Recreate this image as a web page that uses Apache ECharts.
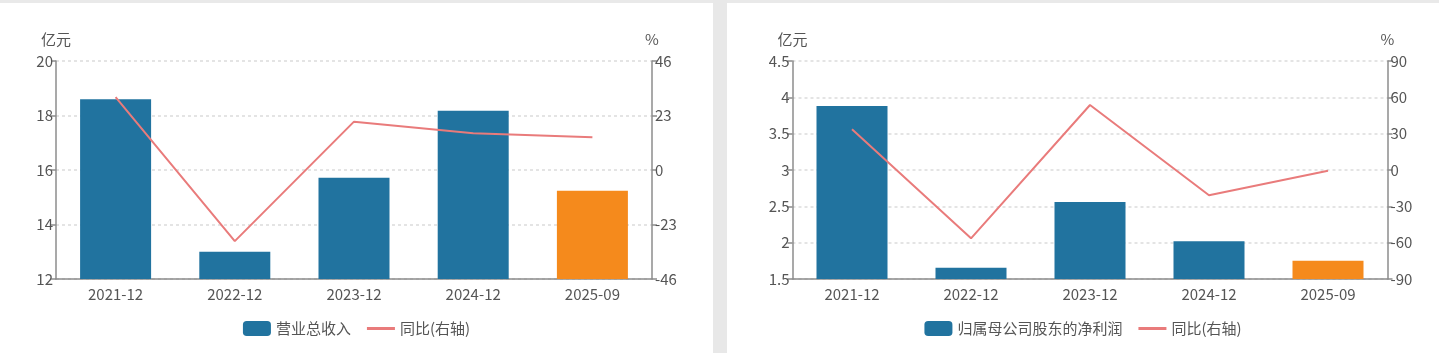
<!DOCTYPE html>
<html><head><meta charset="utf-8">
<script src="https://cdn.jsdelivr.net/npm/echarts@6/dist/echarts.min.js"></script>
<style>
html,body{margin:0;padding:0;background:#fff;width:1439px;height:353px;overflow:hidden;}
#topline{position:absolute;left:0;top:0;width:1439px;height:3px;background:#e9e9e9;}
#sep{position:absolute;left:713px;top:0;width:14px;height:353px;background:#e8e8e8;}
#c1{position:absolute;left:0;top:0;width:713px;height:353px;}
#c2{position:absolute;left:727px;top:0;width:712px;height:353px;}
</style></head>
<body>
<div id="topline"></div><div id="sep"></div>
<div id="c1"></div><div id="c2"></div>
<script>
// ---- data ----
const categories = ['2021-12','2022-12','2023-12','2024-12','2025-09'];
const revenue = [18.6, 13.0, 15.72, 18.17, 15.24];
const revenueYoY = [30.8, -30.0, 20.4, 15.5, 13.8];
const profit = [3.88, 1.655, 2.56, 2.02, 1.75];
const profitYoY = [33.6, -56.4, 53.7, -20.9, -0.6];
const revName = '营业总收入';
const profitName = '归属母公司股东的净利润';
const yoyName = '同比(右轴)';
const unitLeft = '亿元';
const unitRight = '%';

const BLUE = '#21739f', ORANGE = '#f58a1c', RED = '#e97b7b';
const TXT = '#555', AXIS = '#8c8c8c';
const FONT = '"Noto Sans CJK SC", "Noto Sans", sans-serif';

function build(el, barName, bars, yoy, leftAxis, rightAxis, grid) {
  const chart = echarts.init(document.getElementById(el), null, {renderer:'canvas'});
  const last = bars.length - 1;
  const yCommon = {
    type:'value',
    nameTextStyle:{color:TXT, fontSize:15, fontFamily:FONT},
    nameGap:14,
    axisLine:{show:true, lineStyle:{color:AXIS, width:1.5}},
    axisTick:{show:true, length:5, lineStyle:{color:AXIS, width:1.5}},
    axisLabel:{color:TXT, fontSize:15, fontFamily:FONT, margin:3},
  };
  chart.setOption({
    animation:false,
    textStyle:{fontFamily:FONT},
    grid:Object.assign({containLabel:false}, grid),
    legend:{
      top:316, left:'center',
      itemWidth:28, itemHeight:15, itemGap:16,
      textStyle:{color:TXT, fontSize:15, fontFamily:FONT},
      data:[{name:barName, icon:'roundRect', itemStyle:{color:BLUE}},
            {name:yoyName, icon:'path://M0,0 L28,0 L28,3 L0,3 Z', itemStyle:{color:RED}}]
    },
    xAxis:{
      type:'category', data:categories,
      axisLine:{onZero:false, lineStyle:{color:AXIS, width:1.5}},
      axisTick:{alignWithLabel:true, length:6, lineStyle:{color:AXIS, width:1.5}},
      axisLabel:{color:TXT, fontSize:15, fontFamily:FONT, margin:8}
    },
    yAxis:[
      Object.assign({}, yCommon, {
        name:unitLeft, position:'left',
        min:leftAxis.min, max:leftAxis.max, interval:leftAxis.interval,
        splitLine:{show:true, lineStyle:{color:'#dcdcdc', type:[3,3], width:1.5}}
      }),
      Object.assign({}, yCommon, {
        name:unitRight, position:'right',
        min:rightAxis.min, max:rightAxis.max, interval:rightAxis.interval,
        splitLine:{show:false}
      })
    ],
    series:[
      {
        name:barName, type:'bar', yAxisIndex:0, barWidth:71,
        data:bars.map((v,i)=>({value:v, itemStyle:{color: i===last?ORANGE:BLUE}})),
        itemStyle:{color:BLUE}
      },
      {
        name:yoyName, type:'line', yAxisIndex:1, data:yoy,
        symbol:'none', lineStyle:{color:RED, width:2}, itemStyle:{color:RED}
      }
    ]
  });
}

build('c1', revName, revenue, revenueYoY,
  {min:12, max:20, interval:2}, {min:-46, max:46, interval:23},
  {left:56, right:61, top:61, bottom:74});
build('c2', profitName, profit, profitYoY,
  {min:1.5, max:4.5, interval:0.5}, {min:-90, max:90, interval:30},
  {left:65.5, right:51.5, top:61, bottom:74});
</script>
</body></html>
